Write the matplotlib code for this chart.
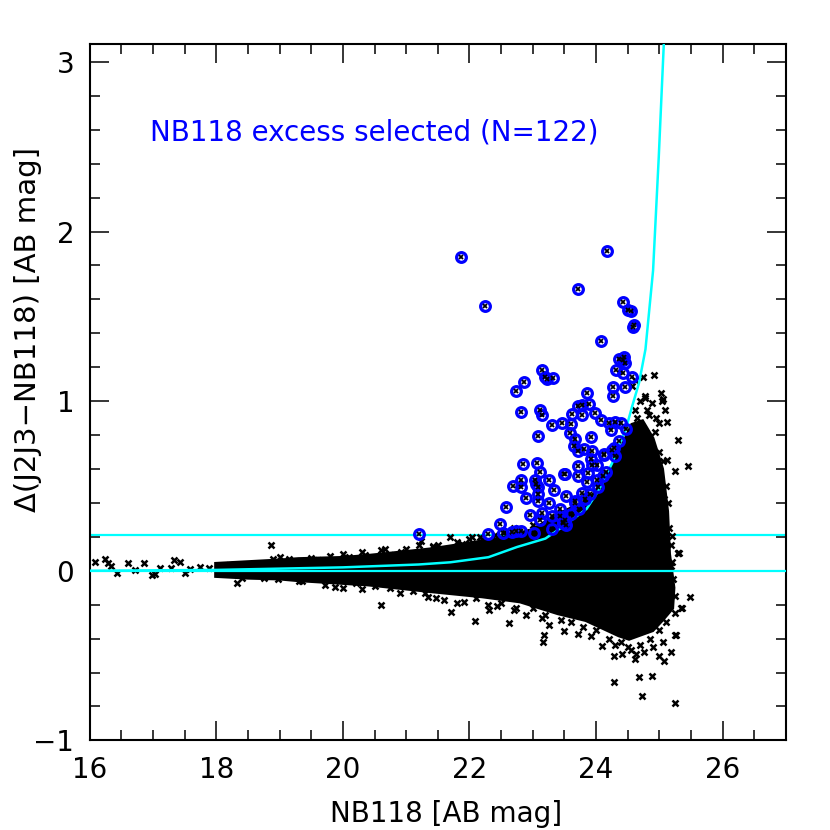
# NB118 narrow-band excess selection: colour excess against NB118 magnitude

import matplotlib
matplotlib.use("Agg")
from matplotlib import pyplot as plt
from matplotlib.ticker import MultipleLocator
from numpy import concatenate

# outline of the dense cloud of catalogue sources
cloud_top_x = [18.0, 18.5, 19.0, 19.3, 20.0, 20.4, 21.0, 21.4, 22.0, 22.5, 22.8, 23.0, 23.4,
               23.9, 24.15, 24.41, 24.57, 24.73, 24.89, 25.04, 25.12, 25.15, 25.22]
cloud_top_y = [0.04, 0.05, 0.06, 0.068, 0.075, 0.087, 0.11, 0.126, 0.16, 0.19, 0.22, 0.24, 0.33,
               0.42, 0.54, 0.73, 0.86, 0.88, 0.78, 0.60, 0.35, 0.10, -0.10]
cloud_bot_x = [25.2, 25.04, 24.89, 24.52, 24.36, 23.84, 23.4, 22.8, 22.2, 21.4, 20.4, 19.3,
               19.0, 18.5, 18.0]
cloud_bot_y = [-0.22, -0.29, -0.35, -0.40, -0.38, -0.29, -0.25, -0.18, -0.15, -0.12, -0.08, -0.055,
               -0.045, -0.04, -0.03]

# individual sources outside the dense cloud
field_x = [16.08, 16.24, 16.29, 16.33, 16.44, 16.60, 16.72, 16.86, 16.99, 17.04, 17.11, 17.29,
           17.34, 17.42, 17.51, 17.58, 17.74, 17.88, 18.86, 18.33, 18.98, 19.35, 19.72, 19.87,
           20.60, 20.66, 20.92, 21.18, 21.24, 21.42, 21.69, 21.88, 22.04, 22.16, 22.33, 21.43,
           21.59, 22.31, 22.63, 22.89, 21.34, 21.47, 21.71, 21.91, 22.10, 22.08, 22.31, 22.62,
           22.89, 22.73, 22.44, 23.14, 23.26, 23.17, 23.16, 23.50, 23.71, 23.92, 24.10, 24.28,
           24.41, 24.62, 24.63, 24.99, 25.08, 25.19, 25.27, 25.34, 25.49, 24.28, 24.68, 24.89,
           24.72, 25.24, 25.29, 25.19, 25.25, 25.31, 25.36,
           24.91, 25.02, 25.05, 24.77, 24.89, 24.57, 24.62, 25.09, 25.12, 25.29, 25.45, 25.25,
           25.12, 25.08, 25.20, 25.29, 24.83, 24.62, 24.99, 24.93, 24.57, 24.74, 24.78, 25.04,
           18.05, 18.2, 18.4, 18.6, 18.75, 18.9, 19.0, 19.15, 19.3, 19.5, 19.6, 19.8, 20.1, 20.2,
           20.35, 20.5, 20.75, 20.8, 21.05, 21.1, 21.3,
           21.5, 21.8, 22.0, 22.2, 22.4, 22.55, 22.7, 23.0, 20.0, 20.3, 20.6, 21.0, 21.2,
           20.0, 20.3, 20.9, 21.6, 21.8, 22.3, 22.5, 22.7, 23.0, 23.2, 23.45, 23.6, 23.8, 24.0,
           24.2, 24.4, 24.5, 24.7, 24.85, 25.0, 25.1, 24.3, 24.55, 24.75, 24.9, 25.05,
           25.2, 25.22, 25.25, 25.25, 25.18, 25.15, 25.13, 25.1, 25.0, 25.05, 24.95, 24.8, 24.65, 24.7]
field_y = [0.052, 0.072, 0.048, 0.028, -0.015, 0.048, 0.005, 0.044, -0.026, -0.020, 0.015, 0.019,
           0.064, 0.052, -0.015, 0.009, 0.025, 0.019, 0.152, -0.070, -0.050, -0.060, -0.085, -0.095,
           -0.199, 0.126, 0.113, 0.113, 0.175, 0.142, 0.201, 0.160, 0.201, 0.201, 0.166, 0.146,
           0.107, 0.156, 0.156, 0.185, -0.152, -0.158, -0.246, -0.184, -0.158, -0.295, -0.232, -0.309,
           -0.262, -0.217, -0.207, -0.281, -0.320, -0.379, -0.422, -0.354, -0.373, -0.387, -0.442, -0.501,
           -0.491, -0.521, -0.491, -0.505, -0.534, -0.478, -0.379, -0.217, -0.152, -0.658, -0.625, -0.619,
           -0.740, -0.781, 0.103, 0.028, -0.379, 0.107, -0.217,
           1.156, 1.048, 1.013, 1.019, 0.989, 1.091, 1.126, 0.950, 0.875, 0.769, 0.616, 0.587,
           0.656, 0.425, 0.205, 0.107, 0.920, 0.950, 0.870, 0.820, 0.770, 1.140, 1.028, 0.999,
           0.030, 0.035, -0.045, 0.040, -0.040, 0.070, 0.080, 0.070, -0.060, 0.075, 0.065, 0.085,
           0.080, -0.070, 0.090, -0.090, -0.100, 0.090, 0.100, -0.120, -0.130,
           0.15, 0.17, 0.185, 0.19, 0.21, 0.23, 0.25, 0.27, 0.10, 0.11, 0.12, 0.13, 0.15,
           -0.10, -0.11, -0.13, -0.17, -0.19, -0.20, -0.19, -0.23, -0.22, -0.26, -0.29, -0.30, -0.33, -0.35,
           -0.40, -0.42, -0.45, -0.44, -0.40, -0.35, -0.30, -0.44, -0.47, -0.48, -0.45, -0.42,
           0.05, -0.05, -0.15, -0.25, 0.15, 0.25, 0.40, 0.50, 0.70, 0.65, 0.90, 0.95, 0.90, 1.00]

# NB118 excess selected objects
sel_x = [21.87, 24.18, 22.25, 23.71, 24.43, 24.51, 24.59, 24.08, 24.36, 24.44, 24.45, 24.31,
         24.43, 24.56, 23.14, 23.22, 23.32, 22.86, 22.74, 24.27, 24.45, 24.27, 23.86, 22.82,
         23.12, 23.15, 23.72, 23.77, 23.89, 23.62, 23.77, 23.98, 24.07, 23.31, 23.46, 23.60,
         23.58, 24.21, 24.30, 24.40, 24.24, 24.47, 23.08, 23.66, 23.92, 23.65, 23.72, 23.81,
         23.93, 24.36, 24.28, 24.13, 24.30, 23.92, 23.94, 24.02, 22.85, 23.06, 23.11, 23.71,
         23.51, 23.71, 23.87, 23.85, 24.02, 24.11, 24.15, 22.81, 22.69, 22.82, 23.04, 23.05,
         23.26, 23.09, 23.33, 22.89, 23.08, 23.09, 23.53, 23.77, 23.90, 24.03, 23.26, 23.67,
         23.82, 23.43, 22.58, 22.95, 23.14, 23.61, 23.73, 23.31, 23.43, 23.11, 22.49, 23.47,
         23.51, 23.31, 21.21, 22.29, 22.53, 22.67, 22.74, 22.82, 23.02, 23.49, 24.12, 23.52,
         23.48, 24.25, 23.66, 24.55, 24.60, 24.42, 23.20]
sel_y = [1.848, 1.887, 1.564, 1.664, 1.587, 1.536, 1.440, 1.354, 1.248, 1.260, 1.225, 1.185,
         1.166, 1.140, 1.181, 1.130, 1.136, 1.113, 1.060, 1.083, 1.083, 1.028, 1.048, 0.938,
         0.950, 0.919, 0.969, 0.978, 0.985, 0.926, 0.917, 0.930, 0.891, 0.858, 0.872, 0.864,
         0.813, 0.872, 0.875, 0.872, 0.828, 0.838, 0.797, 0.778, 0.791, 0.734, 0.705, 0.715,
         0.705, 0.768, 0.721, 0.681, 0.679, 0.660, 0.621, 0.621, 0.632, 0.636, 0.581, 0.617,
         0.572, 0.558, 0.574, 0.525, 0.538, 0.558, 0.581, 0.538, 0.499, 0.495, 0.538, 0.509,
         0.538, 0.495, 0.478, 0.431, 0.450, 0.411, 0.440, 0.460, 0.450, 0.495, 0.397, 0.401,
         0.421, 0.366, 0.378, 0.326, 0.342, 0.336, 0.362, 0.322, 0.322, 0.297, 0.275, 0.283,
         0.297, 0.248, 0.219, 0.219, 0.221, 0.228, 0.234, 0.234, 0.221, 0.570, 0.690, 0.268,
         0.290, 0.710, 0.410, 1.530, 1.450, 1.240, 1.140]

# selection curve and flat cut
curve_x = [16.0, 18.0, 20.0, 21.2, 21.7, 22.3, 22.75, 23.2, 23.5, 23.85, 24.05, 24.26, 24.36,
           24.47, 24.57, 24.68, 24.78, 24.9, 24.99, 25.07]
curve_y = [0.0, 0.005, 0.02, 0.037, 0.05, 0.08, 0.14, 0.19, 0.267, 0.365, 0.48, 0.64, 0.737,
           0.835, 0.97, 1.11, 1.306, 1.77, 2.44, 3.11]
flat_cut = 0.21


if __name__ == '__main__':
    plt.rcParams['font.family'] = ['DejaVu Sans']
    fig = plt.figure(figsize=(8.3, 8.3), dpi=100)
    ax = fig.add_axes([0.108, 0.108, 0.839, 0.839])

    ax.axhline(flat_cut, color="#00ffff", lw=1.6, zorder=1)
    ax.fill(concatenate([cloud_top_x, cloud_bot_x]), concatenate([cloud_top_y, cloud_bot_y]),
            facecolor="black", edgecolor="black", lw=3, zorder=2)
    ax.plot(field_x, field_y, marker="x", linestyle="None", color="black",
            markersize=4.5, markeredgewidth=1.8, zorder=2)
    ax.axhline(0, color="#00ffff", lw=1.6, zorder=3)
    ax.plot(curve_x, curve_y, color="#00ffff", lw=1.8, zorder=3)

    ax.plot(sel_x, sel_y, marker="o", linestyle="None", markerfacecolor="none",
            markeredgecolor="#0000ff", markersize=7, markeredgewidth=2.3, zorder=4)
    ax.plot(sel_x, sel_y, marker="x", linestyle="None", color="black",
            markersize=3.2, markeredgewidth=1.3, zorder=5)

    ax.text(16.96, 2.585, "NB118 excess selected (N=122)", color="#0000ff",
            fontsize=20, ha="left", va="center")

    ax.set_xlim(16, 27)
    ax.set_ylim(-1, 3.106)
    ax.xaxis.set_major_locator(MultipleLocator(2))
    ax.xaxis.set_minor_locator(MultipleLocator(0.5))
    ax.yaxis.set_major_locator(MultipleLocator(1))
    ax.yaxis.set_minor_locator(MultipleLocator(0.2))
    ax.tick_params(which="both", direction="in", top=True, right=True, width=1.1,
                   labelsize=20, pad=11)
    ax.tick_params(which="major", length=14)
    ax.tick_params(which="minor", length=7)
    for spine in ax.spines.values():
        spine.set_linewidth(1.5)

    ax.set_xlabel("NB118 [AB mag]", fontsize=20)
    ax.set_ylabel("Δ(J2J3−NB118) [AB mag]", fontsize=21)
    ax.xaxis.set_label_coords(0.512, -0.085)
    ax.yaxis.set_label_coords(-0.068, 0.59)

    plt.savefig("out.png")
